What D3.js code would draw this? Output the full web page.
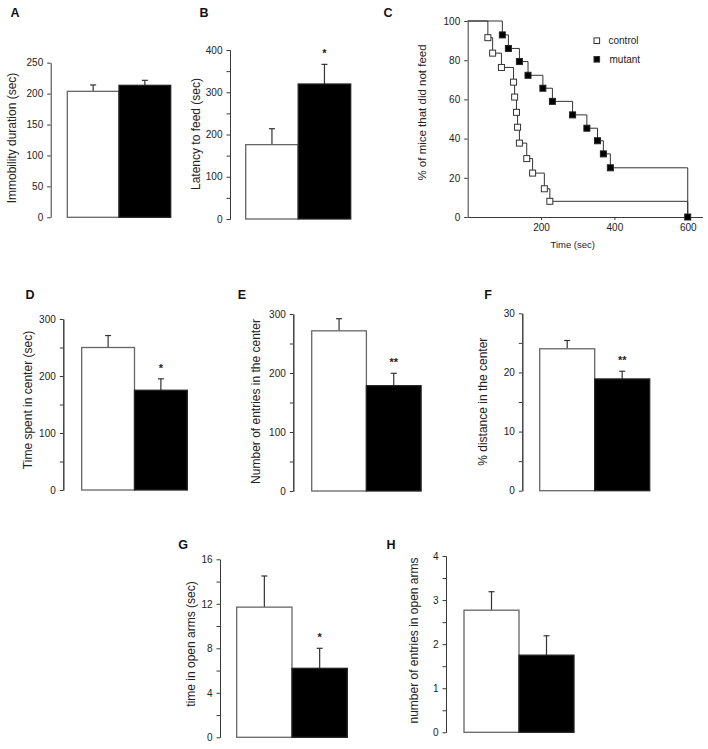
<!DOCTYPE html>
<html><head><meta charset="utf-8">
<script src="https://cdn.jsdelivr.net/npm/d3@7"></script>
<style>
body{margin:0;background:#fff;}
svg{display:block;font-family:"Liberation Sans",Arial,sans-serif;}
</style></head>
<body><svg id="chart" width="708" height="749"></svg>
<script>
// ---------- DATA ----------
const groups = ["control", "mutant"];
// A: forced swim / immobility
const immobilityMean = [203.7, 213.4];
const immobilityErr = [10.3, 8.1];
const immobilityTicks = [0, 50, 100, 150, 200, 250];
// B: latency to feed
const latencyMean = [176, 319.5];
const latencyErr = [37.7, 46.5];
const latencyTicks = [0, 100, 200, 300, 400];
// C: survival (% of mice that did not feed)
const controlTimes = [55, 68, 92, 125, 128, 133, 136, 141, 161, 177, 209, 224];
const controlPct = [91.5, 83.6, 76.3, 68.8, 61.2, 53.4, 45.8, 37.7, 29.8, 22.4, 14.4, 8.0];
const mutantTimes = [94.5, 111, 141, 164.5, 205, 231, 286, 325, 354, 370, 389, 600];
const mutantPct = [92.9, 86.0, 79.3, 72.3, 65.7, 59.0, 52.1, 45.3, 38.9, 32.2, 25.1, 0];
const studyEnd = 600;
const survivalYTicks = [0, 20, 40, 60, 80, 100];
const survivalXTicks = [200, 400, 600];
// D: time spent in center
const centerTimeMean = [250, 175];
const centerTimeErr = [21, 20];
const centerTimeTicks = [0, 100, 200, 300];
// E: entries in center
const centerEntriesMean = [271.5, 178.5];
const centerEntriesErr = [20.5, 21];
const centerEntriesTicks = [0, 100, 200, 300];
// F: % distance in center
const centerDistMean = [24.0, 18.9];
const centerDistErr = [1.4, 1.3];
const centerDistTicks = [0, 10, 20, 30];
// G: time in open arms
const openTimeMean = [11.7, 6.2];
const openTimeErr = [2.8, 1.8];
const openTimeTicks = [0, 4, 8, 12, 16];
// H: entries in open arms
const openEntriesMean = [2.77, 1.75];
const openEntriesErr = [0.42, 0.44];
const openEntriesTicks = [0, 1, 2, 3, 4];

// ---------- DRAW ----------
const svg = d3.select("#chart");
const AX = "#3a3a3a";
const fmt = d3.format("~g");

function letter(t, x, y) {
  svg.append("text").attr("x", x).attr("y", y).attr("font-size", 12.5)
    .attr("font-weight", "bold").attr("fill", "#111").attr("dominant-baseline", "central")
    .attr("text-anchor", "middle").text(t);
}
function yLabel(t, x, y, fs) {
  svg.append("text").attr("transform", `translate(${x},${y}) rotate(-90)`)
    .attr("text-anchor", "middle").attr("dominant-baseline", "central")
    .attr("font-size", fs || 12).attr("fill", "#222").text(t);
}
function styleAxis(g) {
  g.select(".domain").attr("stroke", AX).attr("stroke-width", 1);
  g.selectAll(".tick line").attr("stroke", AX);
  g.selectAll(".tick text").attr("fill", "#222").attr("font-size", 10)
    .attr("font-family", "Liberation Sans, Arial, sans-serif");
}

function barPanel(o) {
  const y = d3.scaleLinear().domain([0, o.ticks[o.ticks.length - 1]]).range([o.y0, o.y1]);
  const x = d3.scaleBand().domain(groups).range([o.bx, o.bx + 2 * o.bw]).padding(0);
  if (o.minor) {
    const minorVals = d3.range(o.minor, o.ticks[o.ticks.length - 1], o.minor * 2);
    const gm = svg.append("g").attr("transform", `translate(${o.ax},0)`)
      .call(d3.axisLeft(y).tickValues(minorVals).tickSize(3.5).tickSizeOuter(0).tickFormat(""));
    styleAxis(gm);
  }
  const g = svg.append("g").attr("transform", `translate(${o.ax},0)`)
    .call(d3.axisLeft(y).tickValues(o.ticks).tickFormat(fmt).tickSize(3.5).tickPadding(4).tickSizeOuter(0));
  styleAxis(g);
  const eg = svg.append("g");
  groups.forEach((k, i) => {
    const cx = x(k) + x.bandwidth() / 2;
    const top = y(o.mean[i] + o.err[i]);
    eg.append("line").attr("x1", cx).attr("x2", cx).attr("y1", y(o.mean[i])).attr("y2", top)
      .attr("stroke", "#333").attr("stroke-width", 1.2);
    eg.append("line").attr("x1", cx - 3).attr("x2", cx + 3).attr("y1", top).attr("y2", top)
      .attr("stroke", "#333").attr("stroke-width", 1.2);
  });
  svg.append("g").selectAll("rect").data(groups).join("rect")
    .attr("x", d => x(d)).attr("width", x.bandwidth())
    .attr("y", (d, i) => y(o.mean[i])).attr("height", (d, i) => y(0) - y(o.mean[i]))
    .attr("fill", (d, i) => i === 0 ? "#fff" : "#000")
    .attr("stroke", (d, i) => i === 0 ? "#666" : "#222").attr("stroke-width", 1.3);
  if (o.sig) {
    const cx = x(groups[1]) + x.bandwidth() / 2;
    svg.append("text").attr("x", cx).attr("y", y(o.mean[1] + o.err[1]) - 11)
      .attr("text-anchor", "middle").attr("dominant-baseline", "central")
      .attr("font-size", 11).attr("font-weight", "bold").attr("fill", "#222").text(o.sig);
  }
  yLabel(o.label, o.lx, o.ly);
  letter(o.letter, o.ltx, o.lty);
}

barPanel({letter: "A", ltx: 15, lty: 13, mean: immobilityMean, err: immobilityErr, ticks: immobilityTicks,
  ax: 50.7, bx: 67.3, bw: 51.7, y0: 217.3, y1: 62.7, label: "Immobility duration (sec)", lx: 12, ly: 138});
barPanel({letter: "B", ltx: 204, lty: 13, mean: latencyMean, err: latencyErr, ticks: latencyTicks, minor: 50,
  ax: 230, bx: 245.7, bw: 52.5, y0: 219, y1: 50, label: "Latency to feed (sec)", lx: 196, ly: 134, sig: "*"});
barPanel({letter: "D", ltx: 30, lty: 295, mean: centerTimeMean, err: centerTimeErr, ticks: centerTimeTicks, minor: 50,
  ax: 63.3, bx: 81.7, bw: 52.8, y0: 490, y1: 319, label: "Time spent in center (sec)", lx: 27.5, ly: 400, sig: "*"});
barPanel({letter: "E", ltx: 242, lty: 295, mean: centerEntriesMean, err: centerEntriesErr, ticks: centerEntriesTicks, minor: 50,
  ax: 293.3, bx: 311.7, bw: 54.7, y0: 491, y1: 314, label: "Number of entries in the center", lx: 256, ly: 401.5, sig: "**"});
barPanel({letter: "F", ltx: 488, lty: 295, mean: centerDistMean, err: centerDistErr, ticks: centerDistTicks, minor: 5,
  ax: 522.3, bx: 539.7, bw: 55, y0: 490.7, y1: 313.3, label: "% distance in the center", lx: 482.5, ly: 401.7, sig: "**"});
barPanel({letter: "G", ltx: 183, lty: 545, mean: openTimeMean, err: openTimeErr, ticks: openTimeTicks, minor: 2,
  ax: 220, bx: 236.7, bw: 55.3, y0: 737.3, y1: 559.3, label: "time in open arms (sec)", lx: 191, ly: 644, sig: "*"});
barPanel({letter: "H", ltx: 391, lty: 545, mean: openEntriesMean, err: openEntriesErr, ticks: openEntriesTicks, minor: 0.5,
  ax: 446, bx: 464, bw: 55, y0: 732.3, y1: 556, label: "number of entries in open arms", lx: 414, ly: 640.5});

// ---------- C: survival ----------
(function () {
  const x = d3.scaleLinear().domain([0, 640]).range([467.7, 702.4]);
  const y = d3.scaleLinear().domain([0, 100]).range([217, 21]);
  const gy = svg.append("g").attr("transform", `translate(${x(0)},0)`)
    .call(d3.axisLeft(y).tickValues(survivalYTicks).tickSize(3.5).tickPadding(4).tickSizeOuter(0));
  styleAxis(gy);
  const gx = svg.append("g").attr("transform", `translate(0,${y(0)})`)
    .call(d3.axisBottom(x).tickValues(survivalXTicks).tickSize(3).tickPadding(4).tickSizeOuter(0));
  styleAxis(gx);

  function stepPts(times, pct) {
    const pts = [[0, 100]];
    let prev = 100;
    times.forEach((t, i) => { pts.push([t, prev]); pts.push([t, pct[i]]); prev = pct[i]; });
    if (times[times.length - 1] < studyEnd) { pts.push([studyEnd, prev]); pts.push([studyEnd, 0]); }
    return pts;
  }
  const line = d3.line().x(d => x(d[0])).y(d => y(d[1]));
  [[controlTimes, controlPct], [mutantTimes, mutantPct]].forEach(([t, p]) => {
    svg.append("path").attr("d", line(stepPts(t, p))).attr("fill", "none")
      .attr("stroke", "#333").attr("stroke-width", 1);
  });
  const s = 6;
  svg.append("g").selectAll("rect").data(controlTimes).join("rect")
    .attr("x", d => x(d) - s / 2).attr("y", (d, i) => y(controlPct[i]) - s / 2)
    .attr("width", s).attr("height", s).attr("fill", "#fff").attr("stroke", "#333").attr("stroke-width", 1);
  svg.append("g").selectAll("rect").data(mutantTimes).join("rect")
    .attr("x", d => x(d) - s / 2).attr("y", (d, i) => y(mutantPct[i]) - s / 2)
    .attr("width", s).attr("height", s).attr("fill", "#000").attr("stroke", "#222").attr("stroke-width", 1);

  const lg = svg.append("g");
  groups.forEach((k, i) => {
    const ly = 40.7 + i * 18.6;
    lg.append("rect").attr("x", 594).attr("y", ly - 2.8).attr("width", 5.6).attr("height", 5.6)
      .attr("fill", i === 0 ? "#fff" : "#000").attr("stroke", "#333");
    lg.append("text").attr("x", 608.5 + i).attr("y", ly).attr("dominant-baseline", "central")
      .attr("font-size", 10).attr("fill", "#222").text(k);
  });
  svg.append("text").attr("x", (x(200) + x(400)) / 2 - 5).attr("y", 244).attr("text-anchor", "middle")
    .attr("dominant-baseline", "central").attr("font-size", 9.5).attr("fill", "#222").text("Time (sec)");
  yLabel("% of mice that did not feed", 422, 112.5, 11.5);
  letter("C", 388, 13);
})();
</script></body></html>
